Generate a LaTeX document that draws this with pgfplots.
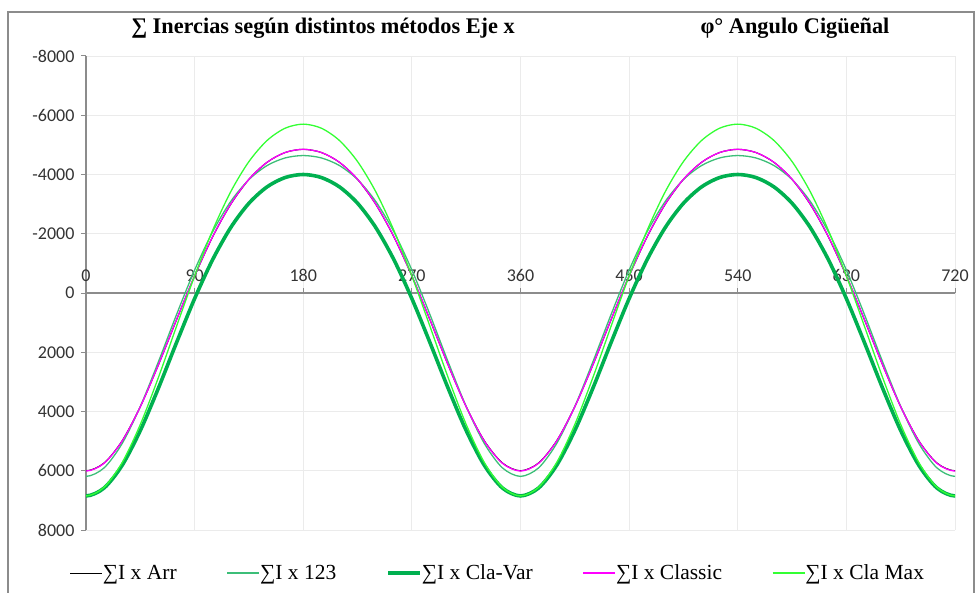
\documentclass[border=0pt]{standalone}
\usepackage{pgfplots}
\pgfplotsset{compat=1.18}
\usepackage{pgfplotstable}
\usepackage{fontspec}
\setmainfont{Liberation Serif}
\newfontfamily\tickfont{Carlito}
\usetikzlibrary{calc}
\definecolor{c123}{RGB}{60,190,120}
\definecolor{cvar}{RGB}{0,176,80}
\definecolor{cmax}{RGB}{51,255,51}
\definecolor{cmag}{RGB}{255,0,255}
\definecolor{gridc}{RGB}{235,235,235}
\definecolor{axc}{RGB}{140,140,140}
\pgfplotstableread{
phi arr l123 clavar classic clamax
-30 4986 5077 5814 4993 5722
-15 5738 5902 6582 5747 6559
0 6000 6190 6850 6010 6850
15 5738 5902 6582 5747 6559
30 4986 5077 5814 4993 5722
45 3836 3829 4643 3840 4437
60 2425 2320 3211 2425 2850
75 906 730 1676 903 1126
90 -575 -775 189 -580 -575
105 -1902 -2073 -1132 -1908 -2122
120 -3000 -3095 -2215 -3005 -3425
135 -3836 -3829 -3029 -3840 -4437
150 -4411 -4302 -3582 -4413 -5147
165 -4742 -4559 -3898 -4743 -5563
180 -4850 -4640 -4000 -4850 -5700
195 -4742 -4559 -3898 -4743 -5563
210 -4411 -4302 -3582 -4413 -5147
225 -3836 -3829 -3029 -3840 -4437
240 -3000 -3095 -2215 -3005 -3425
255 -1902 -2073 -1132 -1908 -2122
270 -575 -775 189 -580 -575
285 906 730 1676 903 1126
300 2425 2320 3211 2425 2850
315 3836 3829 4643 3840 4437
330 4986 5077 5814 4993 5722
345 5738 5902 6582 5747 6559
360 6000 6190 6850 6010 6850
375 5738 5902 6582 5747 6559
390 4986 5077 5814 4993 5722
405 3836 3829 4643 3840 4437
420 2425 2320 3211 2425 2850
435 906 730 1676 903 1126
450 -575 -775 189 -580 -575
465 -1902 -2073 -1132 -1908 -2122
480 -3000 -3095 -2215 -3005 -3425
495 -3836 -3829 -3029 -3840 -4437
510 -4411 -4302 -3582 -4413 -5147
525 -4742 -4559 -3898 -4743 -5563
540 -4850 -4640 -4000 -4850 -5700
555 -4742 -4559 -3898 -4743 -5563
570 -4411 -4302 -3582 -4413 -5147
585 -3836 -3829 -3029 -3840 -4437
600 -3000 -3095 -2215 -3005 -3425
615 -1902 -2073 -1132 -1908 -2122
630 -575 -775 189 -580 -575
645 906 730 1676 903 1126
660 2425 2320 3211 2425 2850
675 3836 3829 4643 3840 4437
690 4986 5077 5814 4993 5722
705 5738 5902 6582 5747 6559
720 6000 6190 6850 6010 6850
735 5738 5902 6582 5747 6559
750 4986 5077 5814 4993 5722
}\datatable
\begin{document}
\begin{tikzpicture}
\begin{axis}[name=ax, at={(0,0)}, anchor=south west,
  scale only axis, width=869pt, height=474pt,
  xmin=0, xmax=720, ymin=-8000, ymax=8000, y dir=reverse,
  axis x line*=middle, axis y line*=left,
  axis line style={axc, line width=1.1pt},
  xtick={0,90,...,720}, ytick={-8000,-6000,...,8000},
  hide obscured x ticks=false, hide obscured y ticks=false,
  grid=major, major grid style={gridc, line width=0.9pt},
  tick style={axc, line width=1pt}, major tick length=5pt,
  tick align=outside,
  /pgf/number format/.cd, 1000 sep={}, assume math mode=true,
  /pgfplots/.cd,
  ticklabel style={font=\tickfont\fontsize{18}{18}\selectfont, text=black!80},
  xticklabel style={anchor=south, yshift=13pt},
  yticklabel style={xshift=-3pt},
  legend columns=5,
  legend style={at={(axis description cs:0.474,-0.091)}, anchor=center, draw=none, fill=none,
    font=\fontsize{21.5}{21.5}\selectfont, inner sep=0pt,
    /tikz/every even column/.append style={column sep=48pt},
    /tikz/every odd column/.append style={column sep=-2pt}},
  legend image code/.code={\draw[#1] (0pt,0pt) -- (32pt,0pt);},
  every axis plot/.append style={smooth},
]
\addplot[black, line width=1.1pt] table[x=phi, y=arr] {\datatable};
\addlegendentry{∑I x Arr}
\addplot[c123, line width=1.3pt] table[x=phi, y=l123] {\datatable};
\addlegendentry{∑I x 123}
\addplot[cvar, line width=3.6pt] table[x=phi, y=clavar] {\datatable};
\addlegendentry{∑I x Cla-Var}
\addplot[cmag, line width=1.3pt] table[x=phi, y=classic] {\datatable};
\addlegendentry{∑I x Classic}
\addplot[cmax, line width=1.3pt] table[x=phi, y=clamax] {\datatable};
\addlegendentry{∑I x Cla Max}
\end{axis}
\node[font=\bfseries\fontsize{22.3}{22.3}\selectfont, anchor=base] at ($(ax.north west)+(237pt,22pt)$) {∑ Inercias según distintos métodos Eje x};
\node[font=\bfseries\fontsize{22.3}{22.3}\selectfont, anchor=base] at ($(ax.north west)+(709pt,22pt)$) {φ° Angulo Cigüeñal};
\draw[axc, line width=1.5pt] ($(ax.south west)+(-78pt,-120pt)$) rectangle ($(ax.north east)+(19pt,44pt)$);
\pgfresetboundingbox
\useasboundingbox ($(ax.south west)+(-86pt,-63pt)$) rectangle ($(ax.north east)+(23pt,56pt)$);
\end{tikzpicture}
\end{document}
